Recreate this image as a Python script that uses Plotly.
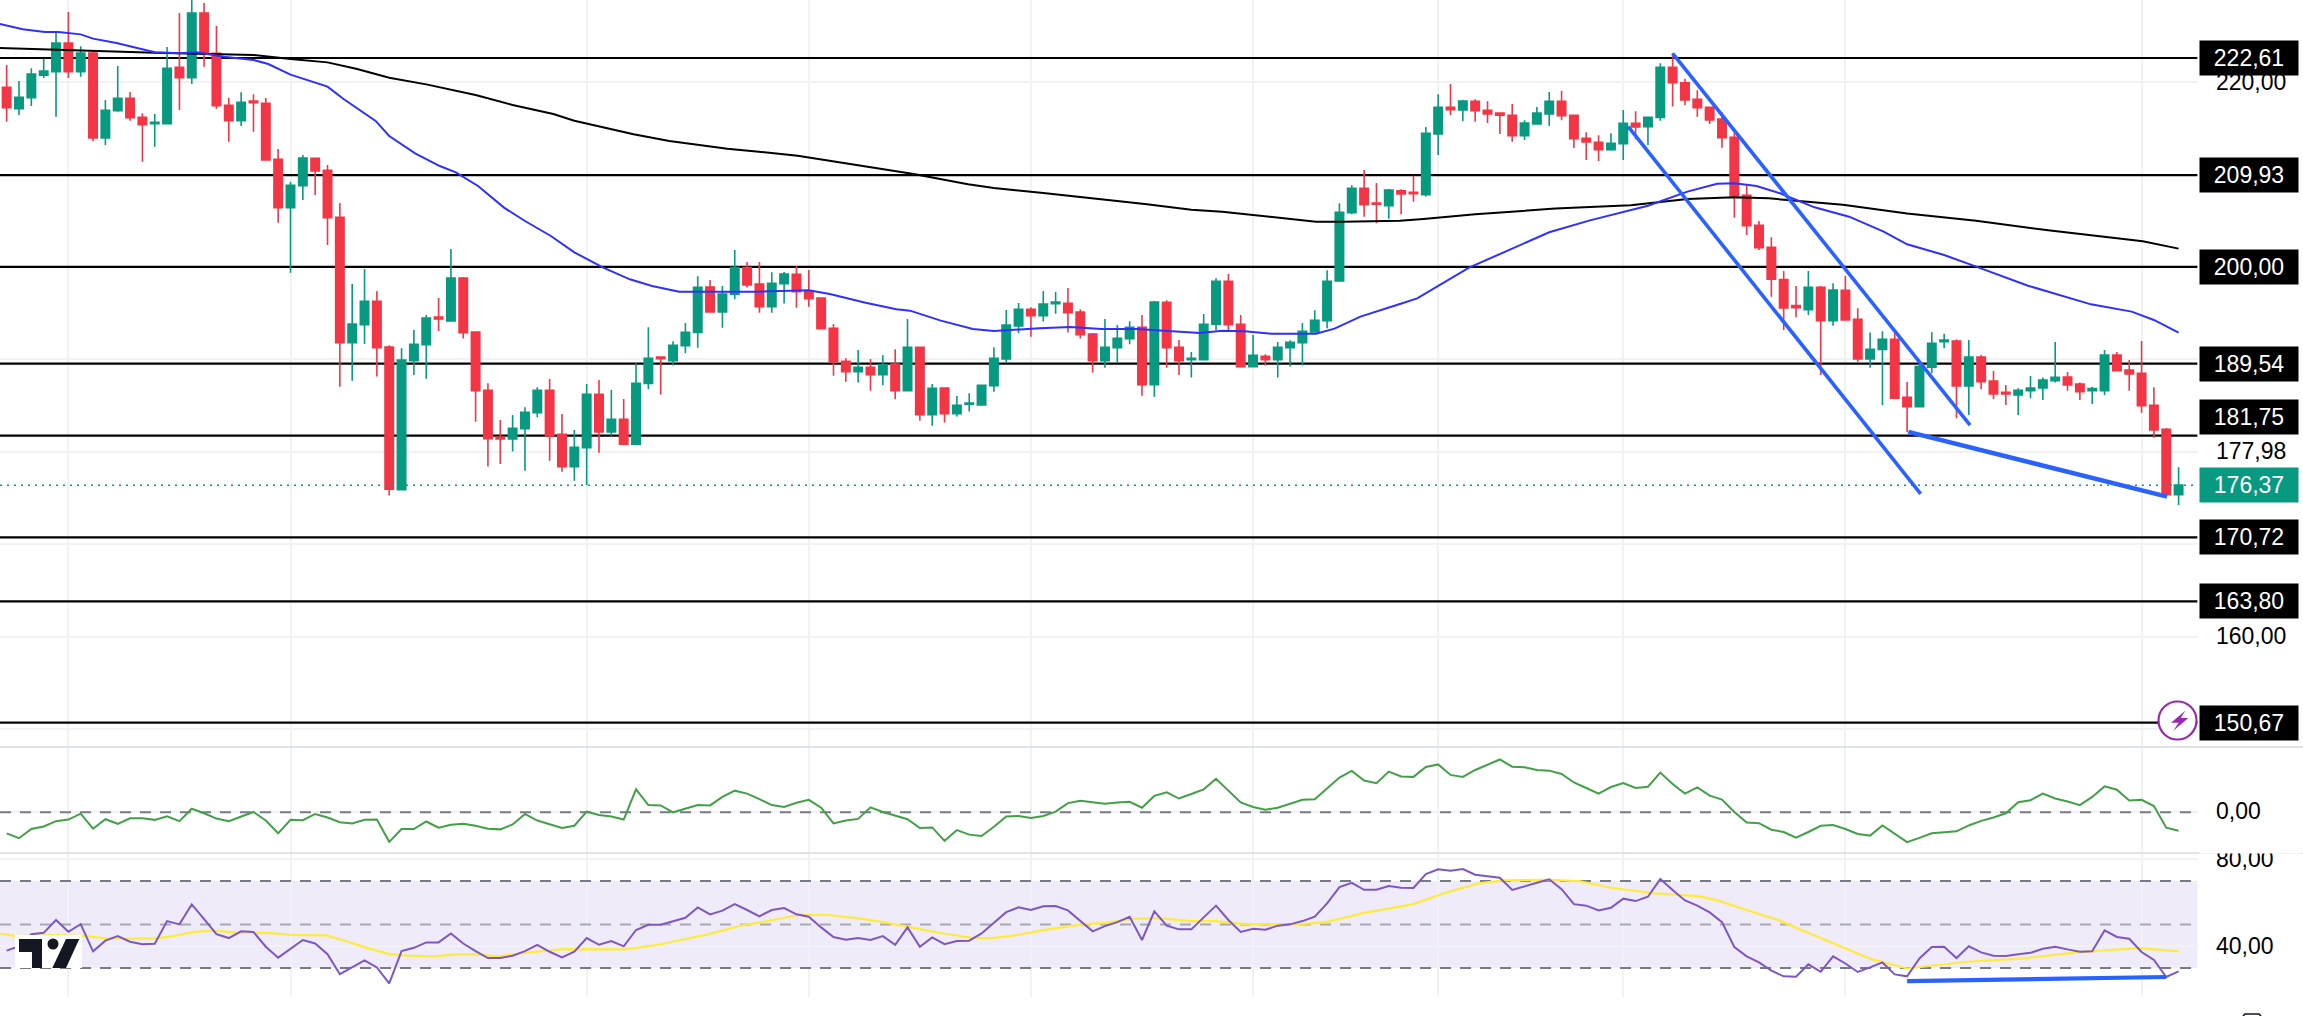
import plotly.graph_objects as go

W, H = 2303, 1016
FONT = "Liberation Sans"

opens = [219.44,217.13,218.32,220.74,221.13,224.24,221.13,223.15,213.96,216.91,218.25,216.19,215.51,215.51,221.60,220.48,227.48,223.12,217.49,215.83,
217.96,217.71,211.65,206.42,208.80,211.75,210.46,205.37,191.80,193.75,196.28,191.34,175.90,189.86,191.59,194.58,194.15,198.80,192.96,186.65,
181.56,181.38,182.50,184.23,186.65,181.88,178.39,180.44,186.21,182.14,183.51,180.80,187.40,190.25,189.86,191.48,192.92,197.83,195.12,197.04,
199.92,198.15,195.70,198.19,199.20,197.40,196.64,193.36,189.78,188.67,189.14,188.34,189.50,186.61,191.30,184.01,186.90,184.12,185.13,185.06,
187.15,190.04,193.61,195.41,194.73,196.03,196.06,195.12,192.74,189.86,191.26,192.24,193.46,187.26,196.17,191.30,189.97,189.97,193.79,198.44,
193.79,189.21,190.33,189.97,191.26,191.80,192.96,194.19,198.48,205.87,208.51,206.92,206.63,208.25,208.07,207.82,214.39,217.27,216.98,217.92,
216.95,216.66,216.41,214.21,215.47,216.55,217.92,216.41,213.92,213.49,212.69,213.34,215.54,215.18,216.19,221.60,219.94,218.14,217.27,216.00,
214.03,207.75,204.50,202.12,198.62,195.81,195.38,197.79,194.19,197.47,194.33,190.04,191.08,192.17,185.89,184.88,189.14,191.91,191.99,187.12,
190.25,187.66,186.43,186.14,186.61,186.90,187.69,188.09,187.33,186.61,186.61,190.47,188.85,188.49,185.02,182.42,175.35]

highs = [221.86,220.12,221.49,222.54,225.46,227.59,223.88,223.30,218.07,221.75,218.93,216.62,216.55,223.80,227.48,229.07,228.57,226.08,218.28,218.90,
218.68,218.28,212.76,209.23,212.12,211.79,211.03,206.92,198.15,199.78,197.40,191.52,191.19,193.18,194.80,196.64,201.94,198.91,193.03,187.40,
183.44,183.98,184.81,186.97,187.87,184.09,182.35,187.33,187.76,186.68,185.71,189.57,193.46,190.29,191.95,193.93,198.98,198.59,197.94,201.83,
200.53,200.53,199.42,199.45,200.10,199.67,196.64,193.82,190.11,191.01,190.04,190.43,191.08,194.37,191.37,187.33,186.93,186.03,186.32,187.26,
191.30,195.34,196.10,195.63,197.40,197.29,197.72,195.41,192.85,194.37,193.72,194.12,194.80,196.31,196.39,192.09,190.79,194.91,198.77,199.24,
194.80,192.63,190.54,191.88,192.06,193.93,195.30,199.63,206.88,208.83,210.49,209.08,208.44,208.40,209.88,215.15,218.68,219.80,218.07,218.14,
217.92,216.70,217.63,215.87,217.31,218.93,219.08,216.48,214.57,214.24,214.46,216.98,216.84,216.23,222.04,223.12,220.38,219.11,217.35,216.73,
214.46,208.83,204.97,203.21,199.56,197.94,199.56,197.94,198.23,199.02,195.52,192.89,193.03,192.81,187.55,189.50,192.92,192.78,192.17,192.09,
190.47,188.74,187.22,186.86,188.20,188.02,191.88,188.63,187.48,187.04,191.01,190.79,189.93,191.98,186.97,182.57,178.31]

lows = [215.72,216.44,217.42,220.45,216.26,220.45,220.59,213.63,213.20,216.80,215.83,211.39,213.02,215.51,216.98,219.80,221.67,217.13,213.56,215.25,
214.64,211.57,204.79,199.38,207.25,207.79,202.37,187.04,187.69,191.66,188.13,175.25,175.90,188.31,187.91,193.07,194.15,192.24,183.25,178.39,
178.67,180.01,177.95,183.72,179.03,177.84,176.87,176.40,179.90,181.74,180.80,180.80,186.75,186.18,189.32,190.65,191.26,195.05,193.43,196.50,
197.76,195.05,195.05,196.03,195.59,195.70,193.32,188.23,187.58,187.48,186.61,187.22,185.67,186.61,183.36,182.82,183.15,183.80,184.34,184.99,
186.50,189.64,192.81,192.45,194.08,194.94,192.89,192.24,188.56,189.10,189.64,191.63,186.07,185.96,189.10,188.31,188.02,189.93,193.18,193.18,
189.21,189.14,189.32,188.02,189.21,189.32,192.96,193.36,198.48,205.69,205.44,204.72,205.22,205.69,207.06,207.61,212.11,216.44,215.79,215.72,
215.58,214.39,213.56,213.74,215.47,215.25,215.88,212.87,211.57,211.47,212.58,211.57,213.81,213.20,215.83,217.35,217.53,216.26,215.47,212.91,
205.33,203.46,201.83,196.78,193.18,194.55,194.80,188.31,193.64,194.19,189.75,189.10,185.06,185.71,182.10,184.88,188.49,191.19,183.62,183.98,
186.75,185.71,185.06,183.98,185.78,185.60,187.48,186.61,185.60,185.17,186.14,188.67,186.61,184.23,181.52,175.14,174.24]

closes = [217.24,218.36,220.88,221.21,224.24,221.13,223.15,213.96,216.95,218.25,216.16,215.40,215.65,221.49,220.48,227.48,223.05,217.45,215.83,217.81,
217.78,211.57,206.42,208.83,211.79,210.38,205.33,191.80,193.82,196.28,191.26,175.93,189.93,191.63,194.48,194.37,198.80,192.89,186.61,181.42,
181.38,182.53,184.27,186.65,181.70,178.39,180.48,186.21,182.14,183.51,180.80,187.40,190.11,190.07,191.52,192.92,197.79,195.12,197.07,199.92,
198.05,195.70,198.23,199.24,197.32,196.57,193.32,189.75,188.67,189.14,188.34,189.42,186.61,191.30,184.01,186.86,184.12,185.02,185.27,187.19,
190.11,193.72,195.41,194.73,195.99,196.21,195.05,192.67,189.86,191.30,192.27,193.46,187.26,196.21,191.26,189.86,190.11,193.79,198.44,193.75,
189.21,190.43,189.97,191.30,191.84,193.03,194.22,198.44,205.91,208.51,206.74,206.78,208.33,207.89,207.93,214.46,217.27,217.02,217.96,216.91,
216.55,216.41,214.21,215.58,216.66,217.92,216.37,213.88,213.52,212.69,213.38,215.54,215.15,216.19,221.60,219.94,218.07,217.24,215.90,213.99,
207.71,204.47,202.09,198.66,195.56,195.59,197.79,194.19,197.51,194.26,190.04,191.08,192.17,185.78,184.88,189.21,191.73,192.09,187.12,190.25,
187.58,186.25,186.25,186.65,186.90,187.76,188.05,187.22,186.50,186.83,190.47,188.77,188.41,184.99,182.35,175.35,176.40]

candle_idx = list(range(len(opens)))

ma50_idx = [-0.54,1.3,3.1,4.2,6,7,8.9,10.3,12,14,15.4,17.6,20,21.2,23,26,27.3,29.9,31,33.1,35.1,36.4,38.2,40.3,42,44.1,46,48.3,50.5,52.3,54.5,56.2,58.4,60.9,65,66.7,69.6,72.1,73.2,75.7,78.3,80,83.7,86.2,88.7,91.6,93.8,96.7,98.5,100.3,102.5,106.1,107.6,109.7,112.9,114.3,118.5,121.3,125,128.3,133,136.2,138.6,140,141.8,143.7,146.5,149.3,152.1,154,157,159.6,163.8,168.9,172.2,174,176]
ma50_val = [226.29,225.72,225.43,225.43,225.17,224.71,224.24,223.80,223.23,223.12,223.23,222.76,222.40,221.96,220.81,219.51,218.18,215.80,214.17,212.30,210.92,210.24,208.76,206.42,204.97,203.35,201.58,199.96,198.66,197.94,197.32,197.32,197.32,197.32,197.47,197.07,196.13,195.41,195.27,194.19,193.28,193.07,193.36,193.50,193.28,193.28,193.10,192.85,193.10,193.03,192.78,192.78,193.32,194.62,195.99,196.60,199.92,201.58,203.75,205.04,206.63,208.15,209.01,209.05,208.76,207.97,206.45,205.44,203.82,202.45,201.29,200.03,197.97,195.95,195.16,194.26,192.89]

ma200_idx = [-0.54,3,6.7,12,17.6,20,23,26,28.4,31,34,38,41,44.3,46,50.8,53.7,56.2,58.4,64.1,68.5,73.5,77.9,80,84,87,89.8,92.4,96,98.5,102.9,106.1,108.3,112.9,114.8,119,125.5,131.6,136.2,140,142.8,148.8,154,159.6,165.6,173.1,176]
ma200_val = [223.70,223.59,223.41,223.19,223.01,222.94,222.50,222.14,221.42,220.48,219.76,218.61,217.53,216.55,215.83,214.35,213.63,213.16,212.80,212.04,211.10,210.06,208.94,208.54,208.00,207.61,207.17,206.78,206.20,205.98,205.33,204.90,204.90,205.01,205.19,205.69,206.31,206.67,207.35,207.53,207.42,206.74,205.77,205.01,203.93,202.77,201.98]

osc_val = [-0.64,-0.79,-0.51,-0.43,-0.27,-0.22,-0.04,-0.50,-0.21,-0.35,-0.18,-0.18,-0.23,-0.12,-0.27,0.11,-0.03,-0.19,-0.27,-0.14,0.01,-0.25,-0.64,-0.23,-0.24,-0.05,-0.16,-0.30,-0.34,-0.23,-0.22,-0.90,-0.51,-0.51,-0.28,-0.47,-0.38,-0.35,-0.41,-0.50,-0.52,-0.37,-0.05,-0.25,-0.36,-0.48,-0.41,0.02,-0.08,-0.13,-0.22,0.70,0.22,0.21,0.00,0.12,0.22,0.21,0.47,0.66,0.57,0.40,0.22,0.16,0.29,
0.38,0.14,-0.34,-0.25,-0.20,0.15,0.01,-0.11,-0.21,-0.48,-0.46,-0.87,-0.54,-0.68,-0.72,-0.44,-0.13,-0.11,-0.17,-0.11,0.02,0.28,0.35,0.31,0.26,0.30,0.32,0.14,0.50,0.61,0.42,0.56,0.70,1.02,0.66,0.30,0.16,0.08,0.14,0.26,0.38,0.40,0.73,1.06,1.26,0.97,0.89,1.24,1.09,1.08,1.38,1.46,1.14,1.08,1.29,1.44,1.61,1.39,1.37,1.29,1.27,
1.17,0.91,0.74,0.57,0.77,0.89,0.74,0.78,1.21,0.86,0.57,0.76,0.51,0.39,0.01,-0.31,-0.33,-0.53,-0.60,-0.77,-0.60,-0.41,-0.39,-0.51,-0.66,-0.71,-0.40,-0.66,-0.91,-0.78,-0.64,-0.61,-0.58,-0.40,-0.26,-0.16,-0.03,0.31,0.37,0.57,0.42,0.33,0.22,0.47,0.79,0.69,0.36,0.38,0.19,-0.47,-0.56]

rsi_val = [38.0,40.1,45.6,46.2,52.1,46.7,50.2,37.7,42.6,44.7,42.1,41.0,41.2,51.6,50.1,59.3,52.5,45.6,43.8,46.9,46.6,39.8,34.8,38.7,42.9,41.3,36.4,27.2,30.3,33.5,30.3,23.0,37.8,39.3,41.8,41.8,45.9,41.3,37.8,34.6,34.6,35.7,37.8,40.7,37.5,34.9,37.5,43.8,40.7,42.4,40.0,47.5,49.9,49.9,51.5,53.1,57.9,54.7,56.4,59.4,56.7,53.8,56.7,57.6,54.7,
53.6,48.7,44.3,43.0,43.8,42.9,44.7,40.7,48.7,39.8,44.1,41.0,42.4,42.6,45.9,50.8,55.7,57.9,56.7,58.4,58.5,56.5,51.5,46.9,49.3,51.1,53.6,42.9,56.1,49.5,47.8,47.8,53.3,58.7,52.1,46.6,48.1,47.6,49.5,50.1,51.6,53.6,59.7,67.2,69.2,66.0,66.0,67.7,66.9,66.8,73.2,75.4,74.8,75.5,72.9,72.3,71.5,65.9,67.7,69.2,70.8,
66.3,59.4,58.7,56.5,57.7,61.9,60.8,62.8,70.9,65.9,61.1,58.7,55.6,51.1,39.7,35.4,32.6,28.8,26.2,26.0,31.7,28.3,35.4,32.1,28.2,30.3,32.6,27.1,26.2,34.4,39.7,39.8,34.6,40.0,37.2,35.7,35.5,36.4,37.0,38.9,39.8,38.6,37.5,37.7,47.3,44.3,43.5,37.4,33.7,25.9,28.5]

rsi_ma_idx = [-0.54,0.7,4,6.5,8.1,11.9,13.5,15.1,16.8,18.9,21.4,23,25.9,27.2,29.2,31,32.5,34.6,36.3,37.9,39.8,42,45.1,50.1,52.8,56.9,59.8,61.1,64.3,66.6,68.9,70.9,74,75.9,78.2,79.8,81.3,84.4,87.1,89.1,91,93.2,96,98,100.3,104.6,106.9,110,113.9,116.6,119.3,121.3,125,127.4,130.1,133.6,137.1,138.7,141,143.7,145.3,148.4,151.1,154,157.3,158.9,163.2,167.8,170.6,172.9,176]
rsi_ma_val = [45.9,44.7,45.2,44.7,43.6,43.5,44.7,46.6,47.2,46.2,46.1,45.3,45.0,42.9,39.3,36.4,35.7,35.4,36.3,36.3,35.4,37.0,38.7,38.6,40.7,45.6,49.9,51.0,54.5,54.4,53.0,51.3,47.9,45.9,43.9,43.8,44.7,47.8,50.1,50.8,52.5,53.0,51.6,51.6,50.2,50.1,51.1,55.4,59.3,64.6,68.9,70.3,70.5,70.0,66.8,64.3,63.1,61.0,56.7,51.8,47.8,40.6,34.1,29.8,31.7,32.9,34.3,37.2,38.4,39.2,37.7]

level_vals = [222.61,209.93,200.00,189.54,181.75,170.72,163.80,150.67]
level_labels = ["222,61","209,93","200,00","189,54","181,75","170,72","163,80","150,67"]
last_price = 176.37
last_label = "176,37"
trend_a_x, trend_a_y = [131.4,155.1], [215.18,175.43]
trend_b_x, trend_b_y = [135.0,159.1], [223.12,182.89]
trend_c_x, trend_c_y = [154.1,175.06], [182.14,175.14]
rsi_trend_x, rsi_trend_y = [154,175], [24.0,25.9]
grid_x = [5,23,47,65,83,101,116,131,149,173]
grid_price = [150,160,170,180,190,200,210,220]

UP, DOWN = "#089981", "#F23645"
XMIN, XMAX = -0.54, 177.54
PLOT_R = 2197.6
px = lambda v: v / W
py = lambda v: 1 - v / H

fig = go.Figure()
fig.add_trace(go.Candlestick(
    x=candle_idx, open=opens, high=highs, low=lows, close=closes,
    increasing=dict(line=dict(color=UP, width=1.6), fillcolor=UP),
    decreasing=dict(line=dict(color=DOWN, width=1.6), fillcolor=DOWN),
    whiskerwidth=0, xaxis="x", yaxis="y", hoverinfo="skip", showlegend=False))
fig.add_trace(go.Scatter(x=ma200_idx, y=ma200_val, mode="lines", line=dict(color="#000000", width=2), xaxis="x", yaxis="y", hoverinfo="skip"))
fig.add_trace(go.Scatter(x=ma50_idx, y=ma50_val, mode="lines", line=dict(color="#2F2FFF", width=2), xaxis="x", yaxis="y", hoverinfo="skip"))
fig.add_trace(go.Scatter(x=[XMIN, XMAX], y=[last_price, last_price], mode="lines", line=dict(color=UP, width=1.6, dash="2px,5px"), xaxis="x", yaxis="y", hoverinfo="skip"))
for tx, ty, lw in [(trend_a_x, trend_a_y, 3.6), (trend_b_x, trend_b_y, 3.6), (trend_c_x, trend_c_y, 4.5)]:
    fig.add_trace(go.Scatter(x=tx, y=ty, mode="lines", line=dict(color="#2962FF", width=lw, simplify=False), xaxis="x", yaxis="y", hoverinfo="skip"))
fig.add_trace(go.Scatter(x=candle_idx, y=osc_val, mode="lines", line=dict(color="#43A047", width=2), xaxis="x2", yaxis="y2", hoverinfo="skip"))
fig.add_trace(go.Scatter(x=rsi_ma_idx, y=rsi_ma_val, mode="lines", line=dict(color="#FFEB3B", width=2.2), xaxis="x3", yaxis="y3", hoverinfo="skip"))
fig.add_trace(go.Scatter(x=candle_idx, y=rsi_val, mode="lines", line=dict(color="#7E57C2", width=2), xaxis="x3", yaxis="y3", hoverinfo="skip"))
fig.add_trace(go.Scatter(x=rsi_trend_x, y=rsi_trend_y, mode="lines", line=dict(color="#2962FF", width=4.2), xaxis="x3", yaxis="y3", hoverinfo="skip"))

shapes = []
for v in level_vals:
    shapes.append(dict(type="line", xref="x", yref="y", x0=XMIN, x1=XMAX, y0=v, y1=v, layer="between", line=dict(color="#000000", width=2.2)))
# RSI band and guide lines
shapes.append(dict(type="rect", xref="x3", yref="y3", x0=XMIN, x1=XMAX, y0=30, y1=70, layer="below", fillcolor="rgba(126,87,194,0.12)", line=dict(width=0)))
dash = "11px,9px"
for val, col in [(70, "#787B86"), (30, "#787B86"), (50, "rgba(120,123,134,0.6)")]:
    shapes.append(dict(type="line", xref="x3", yref="y3", x0=XMIN, x1=XMAX, y0=val, y1=val, layer="between", line=dict(color=col, width=2, dash=dash)))
shapes.append(dict(type="line", xref="x2", yref="y2", x0=XMIN, x1=XMAX, y0=0, y1=0, layer="between", line=dict(color="#787B86", width=2, dash=dash)))
# pane separators
for yy in (747, 853):
    shapes.append(dict(type="line", xref="paper", yref="paper", x0=0, x1=1, y0=py(yy), y1=py(yy), line=dict(color="#E0E3EB", width=2)))

def poly(points):
    return "M" + " L".join(f"{px(a):.5f},{py(b):.5f}" for a, b in points) + " Z"

# TradingView mark
LOGO = "#131722"
shapes.append(dict(type="rect", xref="paper", yref="paper", x0=px(15), x1=px(82), y0=py(968), y1=py(935), fillcolor="#FFFFFF", line=dict(width=0)))
shapes.append(dict(type="path", xref="paper", yref="paper", path=poly([(19, 939), (42, 939), (42, 968), (32, 968), (32, 952), (19, 952)]), fillcolor=LOGO, line=dict(width=0)))
shapes.append(dict(type="circle", xref="paper", yref="paper", x0=px(47.5), x1=px(58.5), y0=py(949.5), y1=py(938.5), fillcolor=LOGO, line=dict(width=0)))
shapes.append(dict(type="path", xref="paper", yref="paper", path=poly([(66, 939), (79.3, 939), (66, 968), (52.3, 968)]), fillcolor=LOGO, line=dict(width=0)))
# lightning badge
shapes.append(dict(type="circle", xref="paper", yref="paper", x0=px(2158.5), x1=px(2196.5), y0=py(739.5), y1=py(701.5), fillcolor="#FFFFFF", line=dict(color="#9C27B0", width=2.2)))
shapes.append(dict(type="path", xref="paper", yref="paper", path=poly([(2185.3, 710.7), (2171, 722.7), (2178.7, 722.7), (2173.3, 730.7), (2188.3, 718), (2180.7, 718)]), fillcolor="#9C27B0", line=dict(width=0)))
# cropped toolbar glyph at the bottom edge
shapes.append(dict(type="path", xref="paper", yref="paper", path=f"M{px(2243):.5f},{py(1016):.5f} L{px(2245):.5f},{py(1014):.5f} L{px(2259):.5f},{py(1014):.5f} L{px(2261):.5f},{py(1016):.5f}", line=dict(color=LOGO, width=1.6)))

ann = []
TX = px(2214)
def plain(text, y):
    ann.append(dict(xref="paper", yref="paper", x=TX, y=py(y), xanchor="left", yanchor="middle", text=text, showarrow=False, font=dict(family=FONT, size=23, color="#000000")))
def boxed(text, y, bg):
    ann.append(dict(xref="paper", yref="paper", x=px(2199), y=py(y), xanchor="left", yanchor="middle", text=text, showarrow=False, width=92, height=28, align="center", borderpad=3, bgcolor=bg, font=dict(family=FONT, size=23, color="#FFFFFF")))

plain("220,00", 82)
plain("160,00", 636)
plain("177,98", 451)
plain("0,00", 811)
plain("80,00", 859)
plain("40,00", 946)
ann.append(dict(xref="paper", yref="paper", x=px(2199), y=py(844), xanchor="left", yanchor="middle", text=" ", showarrow=False, width=100, height=16, bgcolor="#FFFFFF"))
label_y = {"181,75": 417}
for t, v in zip(level_labels, level_vals):
    boxed(t, label_y.get(t, 58 + (222.61 - v) * 9.24), "#000000")
boxed(last_label, 485, UP)

GRID = "#F1F2F5"
def xax(anchor):
    return dict(domain=[0, px(PLOT_R)], range=[XMIN, XMAX], anchor=anchor, tickmode="array", tickvals=grid_x, showticklabels=False, ticks="", showgrid=True, gridcolor=GRID, gridwidth=1.6, zeroline=False, showline=False, rangeslider=dict(visible=False))

fig.update_layout(
    width=W, height=H, autosize=False, margin=dict(l=0, r=0, t=0, b=0),
    paper_bgcolor="#FFFFFF", plot_bgcolor="#FFFFFF", showlegend=False,
    boxgap=0.32, boxgroupgap=0,
    xaxis=xax("y"), xaxis2=xax("y2"), xaxis3=xax("y3"),
    yaxis=dict(domain=[py(747), 1], range=[148.04, 228.89], tickmode="array", tickvals=grid_price, showticklabels=False, ticks="", showgrid=True, gridcolor=GRID, gridwidth=1.6, zeroline=False),
    yaxis2=dict(domain=[py(853), py(748)], range=[-1.24, 1.96], tickmode="array", tickvals=[0], showticklabels=False, ticks="", showgrid=True, gridcolor=GRID, gridwidth=1.6, zeroline=False),
    yaxis3=dict(domain=[py(997), py(853)], range=[16.7, 82.9], tickmode="array", tickvals=[40, 80], showticklabels=False, ticks="", showgrid=True, gridcolor=GRID, gridwidth=1.6, zeroline=False),
    shapes=shapes, annotations=ann, hovermode=False,
)
fig.write_html("out.html", config=dict(displayModeBar=False), post_script="document.body.style.margin='0';")
